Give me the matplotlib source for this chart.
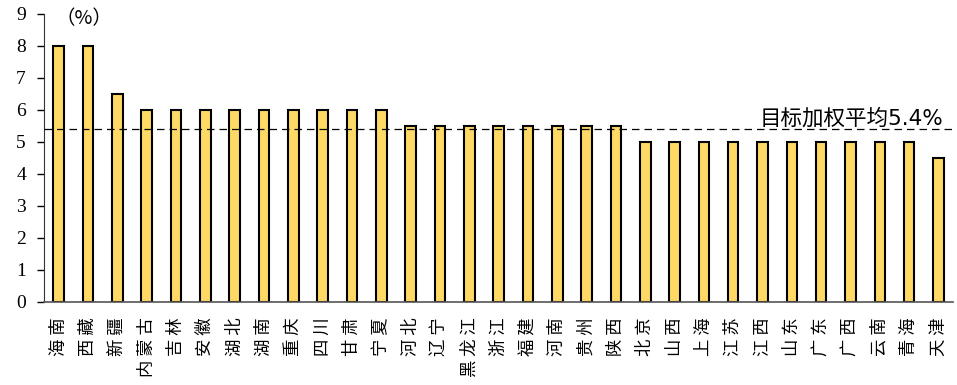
import numpy as np
import matplotlib
matplotlib.use("Agg")
import matplotlib.pyplot as plt

plt.rcParams['font.family'] = ['Noto Sans CJK SC', 'DejaVu Sans']

provinces = ["海南", "西藏", "新疆", "内蒙古", "吉林", "安徽", "湖北", "湖南", "重庆", "四川",
             "甘肃", "宁夏", "河北", "辽宁", "黑龙江", "浙江", "福建", "河南", "贵州", "陕西",
             "北京", "山西", "上海", "江苏", "江西", "山东", "广东", "广西", "云南", "青海", "天津"]
targets = [8, 8, 6.5, 6, 6, 6, 6, 6, 6, 6,
           6, 6, 5.5, 5.5, 5.5, 5.5, 5.5, 5.5, 5.5, 5.5,
           5, 5, 5, 5, 5, 5, 5, 5, 5, 5, 4.5]
weighted_avg = 5.4

fig = plt.figure(figsize=(9.57, 3.85), dpi=100)
ax = fig.add_axes([0.046, 0.216, 0.950, 0.748])

x = np.arange(len(provinces))
ax.bar(x, targets, width=0.36, color="#FFD966", edgecolor="black", linewidth=1.5, zorder=2)
ax.axhline(weighted_avg, color="black", linestyle=(0, (6, 4)), linewidth=0.9, zorder=3)
ax.text(len(provinces) - 0.85, weighted_avg + 0.02, "目标加权平均5.4%", ha="right", va="bottom",
        fontsize=15.5, family=['DejaVu Sans', 'Noto Sans CJK SC'])
ax.text(0.85, 8.85, "（%）", ha="center", va="center", fontsize=14)

ax.set_xlim(-0.5, len(provinces) - 0.5)
ax.set_ylim(0, 9)
ax.set_yticks(range(10))
ax.set_yticklabels([str(i) for i in range(10)], family="Liberation Serif", fontsize=14)
ax.set_xticks(x)
# characters spread apart like the original
ax.set_xticklabels([" ".join(p) for p in provinces], rotation=90, fontsize=12.5, va="top", ha="center")
ax.tick_params(axis="x", length=0, pad=11)
ax.tick_params(axis="y", direction="out", length=5, width=1, pad=8)
for s in ["top", "right"]:
    ax.spines[s].set_visible(False)
ax.spines["left"].set_color("#333333")
ax.spines["bottom"].set_color("#555555")
ax.spines["bottom"].set_linewidth(1.2)

fig.savefig("out.png", dpi=100)
